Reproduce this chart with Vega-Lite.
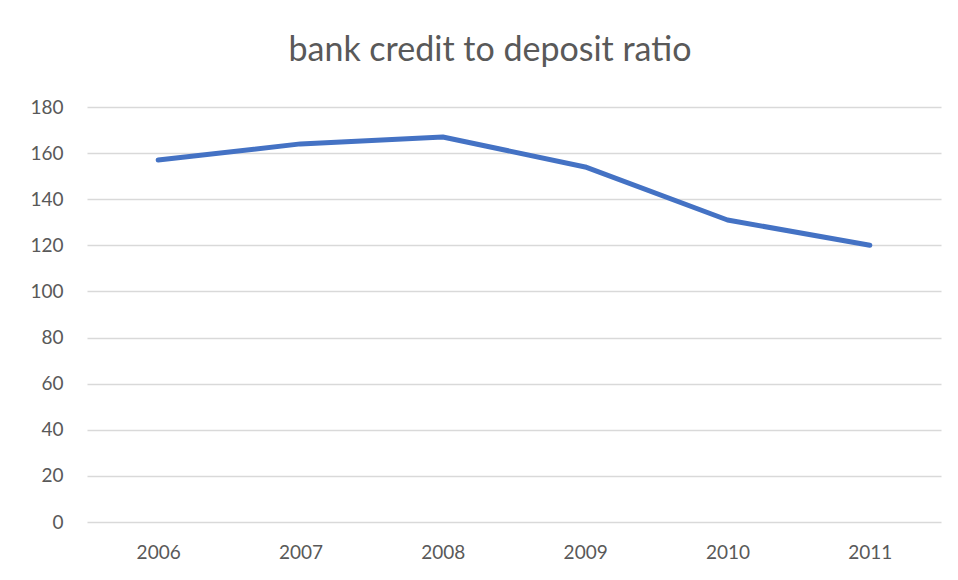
{
  "$schema": "https://vega.github.io/schema/vega-lite/v6.json",
  "autosize": "none",
  "width": 854,
  "height": 415,
  "padding": {"left": 87, "top": 107, "right": 17, "bottom": 58},
  "background": "white",
  "title": {
    "text": "bank credit to deposit ratio",
    "font": "Lato",
    "fontSize": 34,
    "fontWeight": "normal",
    "color": "#595959",
    "anchor": "middle",
    "dx": -24,
    "offset": 30
  },
  "data": {
    "values": [
      {"year": "2006", "ratio": 157},
      {"year": "2007", "ratio": 164},
      {"year": "2008", "ratio": 167},
      {"year": "2009", "ratio": 154},
      {"year": "2010", "ratio": 131},
      {"year": "2011", "ratio": 120}
    ]
  },
  "mark": {"type": "line", "color": "#4472C4", "strokeWidth": 5, "strokeCap": "round", "strokeJoin": "round"},
  "encoding": {
    "x": {
      "field": "year",
      "type": "ordinal",
      "scale": {"type": "point", "padding": 0.5},
      "axis": {
        "title": null,
        "labelAngle": 0,
        "labelFont": "Lato",
        "labelFontSize": 19,
        "labelColor": "#595959",
        "labelPadding": 21,
        "ticks": false,
        "domain": false,
        "grid": false
      }
    },
    "y": {
      "field": "ratio",
      "type": "quantitative",
      "scale": {"domain": [0, 180], "nice": false},
      "axis": {
        "title": null,
        "values": [0, 20, 40, 60, 80, 100, 120, 140, 160, 180],
        "labelFont": "Lato",
        "labelFontSize": 19,
        "labelColor": "#595959",
        "labelPadding": 24,
        "ticks": false,
        "domain": false,
        "grid": true,
        "gridColor": "#d9d9d9",
        "gridWidth": 1.5
      }
    }
  },
  "config": {"view": {"stroke": null}}
}
